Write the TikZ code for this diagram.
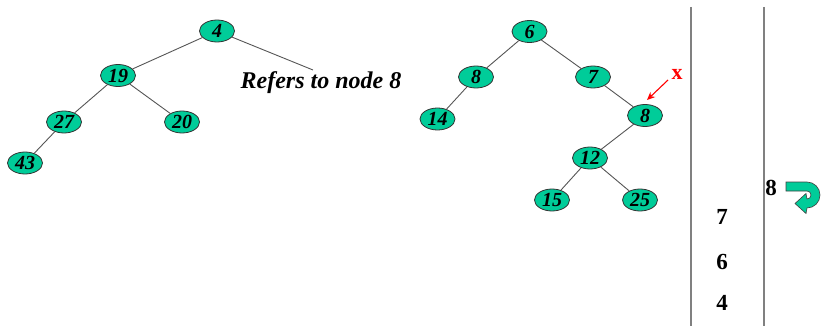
\documentclass[tikz,border=0pt]{standalone}
\usepackage{fontspec}
\setmainfont{Liberation Serif}
\usetikzlibrary{shapes.geometric,arrows.meta}
\definecolor{mint}{RGB}{0,204,153}
\definecolor{edgegray}{RGB}{85,85,85}
\definecolor{railgray}{RGB}{128,128,128}
\definecolor{xred}{RGB}{255,0,0}
\begin{document}
\begin{tikzpicture}[x=1pt,y=-1pt,
  tnode/.style={ellipse,draw=black!80,line width=0.8pt,fill=mint,
    minimum width=35pt,minimum height=22pt,inner sep=0pt,
    font=\fontsize{20}{20}\selectfont\bfseries\itshape},
  edge/.style={draw=edgegray,line width=0.9pt},
  stacknum/.style={font=\fontsize{23}{23}\selectfont\bfseries,inner sep=0pt},
  rail/.style={draw=railgray,line width=1.5pt}]
\useasboundingbox (0,0) rectangle (821,326);

% left tree
\node[tnode] (l4)  at (217,31)  {4};
\node[tnode] (l19) at (118,75.5) {19};
\node[tnode] (l27) at (64,122)  {27};
\node[tnode] (l20) at (182,122) {20};
\node[tnode] (l43) at (25,163)  {43};
\coordinate (ref) at (313,70);
\node[font=\fontsize{24}{24}\selectfont\bfseries\itshape,inner sep=0pt] (reftxt) at (321,83) {Refers to node 8};
\draw[edge] (l4) -- (l19);
\draw[edge] (l4) -- (ref);
\draw[edge] (l19) -- (l27);
\draw[edge] (l19) -- (l20);
\draw[edge] (l27) -- (l43);

% right tree
\node[tnode] (r6)  at (529.5,31.5) {6};
\node[tnode] (r8a) at (476,77)  {8};
\node[tnode] (r7)  at (593,77)  {7};
\node[tnode] (r14) at (437.5,119) {14};
\node[tnode] (r8b) at (645,115.5) {8};
\node[tnode] (r12) at (590,158) {12};
\node[tnode] (r15) at (552,200) {15};
\node[tnode] (r25) at (640,200) {25};
\draw[edge] (r6) -- (r8a);
\draw[edge] (r6) -- (r7);
\draw[edge] (r8a) -- (r14);
\draw[edge] (r7) -- (r8b);
\draw[edge] (r8b) -- (r12);
\draw[edge] (r12) -- (r15);
\draw[edge] (r12) -- (r25);

% marker pointing at the second 8
\node[text=xred,font=\fontsize{22}{22}\selectfont\bfseries,inner sep=0pt] (xm) at (677,74) {x};
\coordinate (xtail) at (668,80);
\coordinate (xtip) at (647,100);
\draw[xred,line width=1.1pt,-{Stealth[length=8pt,width=7pt]}] (xtail) -- (xtip);

% stack columns
\coordinate (railAtop) at (691,7);
\coordinate (railAbot) at (691,326);
\coordinate (railBtop) at (764,7);
\coordinate (railBbot) at (764,326);
\draw[rail] (railAtop) -- (railAbot);
\draw[rail] (railBtop) -- (railBbot);
\node[stacknum] (s7) at (722,217) {7};
\node[stacknum] (s6) at (722,262) {6};
\node[stacknum] (s4) at (722,303) {4};
\node[stacknum] (s8) at (771,188) {8};

% U-turn arrow
\filldraw[fill=mint,draw=black!75,line width=0.6pt]
  (786,182) -- (807,182)
  .. controls (814.18,182) and (820,187.82) .. (820,195)
  .. controls (820,202.18) and (814.18,208) .. (807,208)
  -- (806,213.5) -- (795,203.5) -- (806,193.5) -- (807,199)
  .. controls (809.21,199) and (811,197.21) .. (811,195)
  .. controls (811,192.79) and (809.21,191) .. (807,191)
  -- (786,191) -- cycle;
\end{tikzpicture}
\end{document}
